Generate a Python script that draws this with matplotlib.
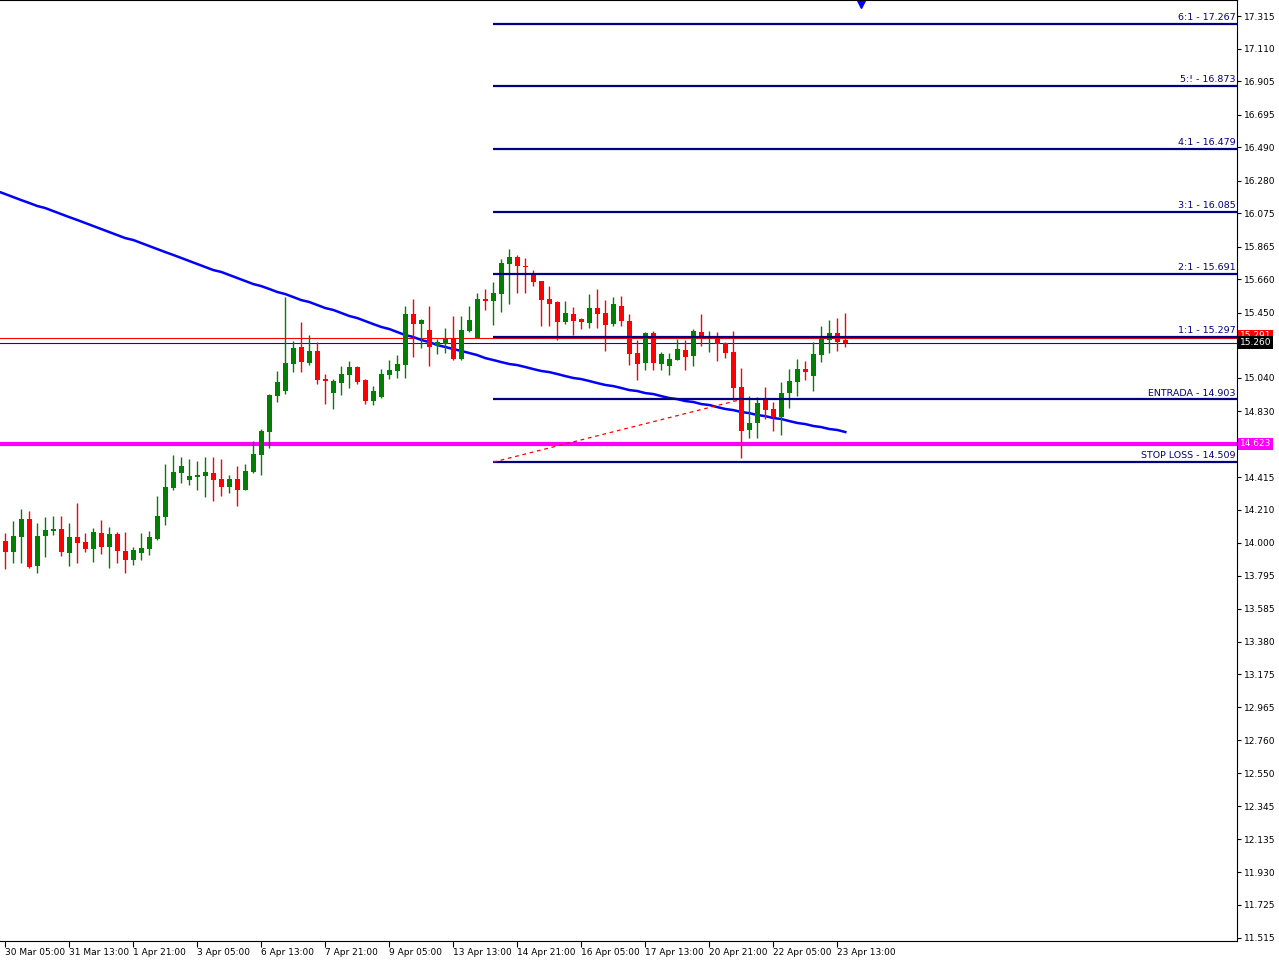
# 4H candlestick chart with MA and risk/reward levels (MT4 style)

import numpy as np
import matplotlib.pyplot as plt
import matplotlib.transforms as mtransforms

# candles (30 Mar 05:00 .. 23 Apr 13:00, 4H bars)
opens = [14.012, 13.943, 14.037, 14.150, 13.855, 14.043, 14.075, 14.087, 13.937, 14.037,
         14.006, 13.962, 14.062, 13.974, 14.056, 13.949, 13.893, 13.937, 13.962, 14.025,
         14.163, 14.346, 14.440, 14.396, 14.415, 14.421, 14.440, 14.402, 14.352, 14.402,
         14.333, 14.446, 14.553, 14.698, 14.924, 14.956, 15.126, 15.233, 15.132, 15.207,
         15.031, 14.943, 15.006, 15.056, 15.107, 15.025, 14.893, 14.918, 15.056, 15.082,
         15.119, 15.440, 15.377, 15.340, 15.239, 15.252, 15.283, 15.157, 15.334, 15.289,
         15.535, 15.522, 15.566, 15.755, 15.799, 15.742, 15.698, 15.648, 15.535, 15.516,
         15.390, 15.440, 15.409, 15.384, 15.478, 15.447, 15.377, 15.491, 15.396, 15.195,
         15.132, 15.321, 15.126, 15.113, 15.151, 15.214, 15.176, 15.327, 15.289, 15.289,
         15.258, 15.201, 14.981, 14.711, 14.755, 14.905, 14.843, 14.792, 14.943, 15.012,
         15.094, 15.050, 15.182, 15.277, 15.321, 15.277]
highs = [14.064, 14.138, 14.213, 14.201, 14.125, 14.163, 14.169, 14.169, 14.125, 14.251,
         14.062, 14.094, 14.144, 14.100, 14.069, 14.069, 13.974, 14.062, 14.075, 14.295,
         14.497, 14.553, 14.541, 14.528, 14.516, 14.541, 14.541, 14.528, 14.428, 14.484,
         14.497, 14.641, 14.717, 14.937, 15.082, 15.547, 15.271, 15.390, 15.308, 15.264,
         15.063, 15.031, 15.113, 15.144, 15.113, 15.031, 14.987, 15.094, 15.151, 15.182,
         15.491, 15.535, 15.409, 15.491, 15.283, 15.352, 15.428, 15.428, 15.491, 15.572,
         15.598, 15.642, 15.786, 15.849, 15.811, 15.792, 15.717, 15.648, 15.616, 15.522,
         15.522, 15.484, 15.415, 15.566, 15.598, 15.528, 15.547, 15.554, 15.440, 15.277,
         15.327, 15.334, 15.201, 15.195, 15.283, 15.277, 15.346, 15.440, 15.334, 15.327,
         15.264, 15.334, 15.101, 14.924, 14.918, 14.981, 14.887, 15.012, 15.094, 15.157,
         15.145, 15.264, 15.365, 15.403, 15.415, 15.447]
lows = [13.836, 13.874, 13.874, 13.845, 13.811, 13.912, 14.050, 13.918, 13.855, 13.874,
        13.943, 13.880, 13.930, 13.843, 13.874, 13.811, 13.861, 13.893, 13.924, 14.018,
        14.113, 14.333, 14.377, 14.364, 14.333, 14.289, 14.264, 14.295, 14.314, 14.232,
        14.333, 14.440, 14.428, 14.597, 14.887, 14.937, 15.075, 15.075, 15.119, 15.000,
        14.874, 14.842, 14.931, 14.975, 15.000, 14.874, 14.868, 14.912, 15.031, 15.038,
        15.038, 15.170, 15.226, 15.113, 15.189, 15.195, 15.151, 15.151, 15.327, 15.289,
        15.466, 15.371, 15.453, 15.503, 15.572, 15.572, 15.616, 15.365, 15.365, 15.277,
        15.377, 15.308, 15.346, 15.352, 15.352, 15.207, 15.365, 15.365, 15.119, 15.025,
        15.088, 15.088, 15.088, 15.056, 15.151, 15.088, 15.113, 15.239, 15.201, 15.145,
        15.164, 14.899, 14.534, 14.660, 14.660, 14.780, 14.704, 14.679, 14.849, 14.924,
        15.025, 14.956, 15.138, 15.195, 15.207, 15.233]
closes = [13.943, 14.043, 14.150, 13.849, 14.043, 14.081, 14.087, 13.943, 14.037, 13.999,
          13.962, 14.069, 13.974, 14.056, 13.949, 13.893, 13.956, 13.968, 14.037, 14.169,
          14.352, 14.446, 14.484, 14.421, 14.428, 14.446, 14.396, 14.352, 14.402, 14.333,
          14.453, 14.560, 14.704, 14.931, 15.012, 15.132, 15.226, 15.138, 15.207, 15.025,
          15.019, 15.019, 15.063, 15.107, 15.012, 14.893, 14.956, 15.063, 15.088, 15.126,
          15.440, 15.377, 15.403, 15.233, 15.264, 15.283, 15.157, 15.340, 15.403, 15.535,
          15.522, 15.572, 15.761, 15.799, 15.742, 15.736, 15.642, 15.528, 15.503, 15.390,
          15.447, 15.396, 15.390, 15.478, 15.440, 15.371, 15.503, 15.396, 15.189, 15.126,
          15.321, 15.132, 15.189, 15.157, 15.220, 15.170, 15.334, 15.289, 15.302, 15.252,
          15.195, 14.975, 14.704, 14.755, 14.880, 14.836, 14.792, 14.943, 15.019, 15.094,
          15.075, 15.189, 15.283, 15.321, 15.264, 15.260]

# moving average, starting one bar before the first candle
ma_values = [16.214, 16.195, 16.176, 16.157, 16.139, 16.120, 16.107, 16.088, 16.069, 16.050,
             16.032, 16.013, 15.994, 15.975, 15.956, 15.937, 15.918, 15.906, 15.887, 15.868,
             15.849, 15.830, 15.812, 15.793, 15.774, 15.755, 15.736, 15.717, 15.705, 15.686,
             15.667, 15.648, 15.629, 15.616, 15.598, 15.579, 15.566, 15.547, 15.528, 15.516,
             15.497, 15.478, 15.466, 15.447, 15.428, 15.415, 15.396, 15.377, 15.359, 15.346,
             15.327, 15.308, 15.296, 15.277, 15.264, 15.245, 15.233, 15.220, 15.208, 15.195,
             15.182, 15.163, 15.151, 15.138, 15.126, 15.119, 15.107, 15.094, 15.082, 15.075,
             15.063, 15.050, 15.038, 15.031, 15.019, 15.006, 14.994, 14.987, 14.975, 14.962,
             14.956, 14.943, 14.937, 14.924, 14.912, 14.905, 14.893, 14.887, 14.874, 14.868,
             14.855, 14.843, 14.836, 14.824, 14.817, 14.805, 14.798, 14.786, 14.780, 14.767,
             14.755, 14.748, 14.736, 14.729, 14.717, 14.711, 14.698]

# risk / reward levels
level_names = ['6:1', '5:!', '4:1', '3:1', '2:1', '1:1', 'ENTRADA', 'STOP LOSS']
level_prices = [17.267, 16.873, 16.479, 16.085, 15.691, 15.297, 14.903, 14.509]
level_start = 61
trend_bars = [61, 92]
trend_prices = [14.509, 14.903]

stop_line = 14.623
ask_price = 15.291
bid_price = 15.260

x_labels = ['30 Mar 05:00', '31 Mar 13:00', '1 Apr 21:00', '3 Apr 05:00', '6 Apr 13:00',
            '7 Apr 21:00', '9 Apr 05:00', '13 Apr 13:00', '14 Apr 21:00', '16 Apr 05:00',
            '17 Apr 13:00', '20 Apr 21:00', '22 Apr 05:00', '23 Apr 13:00']
y_labels = ['17.315', '17.110', '16.905', '16.695', '16.490', '16.280', '16.075', '15.865',
            '15.660', '15.450', '15.040', '14.830', '14.415', '14.210', '14.000', '13.795',
            '13.585', '13.380', '13.175', '12.965', '12.760', '12.550', '12.345', '12.135',
            '11.930', '11.725', '11.515']

o = np.array(opens)
h = np.array(highs)
l = np.array(lows)
c = np.array(closes)
bars = np.arange(len(o))
up = c >= o

fig = plt.figure(figsize=(12.79, 9.61), dpi=100)
ax = fig.add_axes([0, 20 / 961, 1237 / 1279, 941 / 961])

# horizontal price lines (full width)
ax.axhline(ask_price, color='#ff0000', lw=0.8, zorder=1)
ax.axhline(bid_price, color='#0000ff', lw=0.8, zorder=1)
ax.axhline(stop_line, color='#ff00ff', lw=3, zorder=1)

# moving average
ax.plot(np.arange(-1, len(ma_values) - 1), ma_values, color='#0000ff', lw=1.8, zorder=2)

# candles
colors = np.where(up, '#008000', '#ff0000')
ax.vlines(bars, l, h, colors=colors, lw=1, zorder=3)
body_low = np.minimum(o, c)
body_h = np.maximum(np.abs(c - o), 0.008)
ax.bar(bars, body_h, bottom=body_low, width=0.62, color=colors, lw=0, zorder=4)

# fibo style levels
blend = mtransforms.blended_transform_factory(ax.transAxes, ax.transData)
for name, price in zip(level_names, level_prices):
    ax.hlines(price, level_start, 160, color='#000080', lw=1.6, zorder=5)
    ax.text(0.999, price + 0.012, f'{name} - {price:.3f}', transform=blend,
            ha='right', va='bottom', fontsize=6.8, color='#000080')
ax.plot(trend_bars, trend_prices, color='#ff0000', lw=0.9, ls=(0, (3, 3)), zorder=5)

# shift marker at the top
ax.plot([107], [0.996], marker='v', ms=6, color='#0000ff',
        transform=mtransforms.blended_transform_factory(ax.transData, ax.transAxes), clip_on=False)

ax.set_xlim(-0.66, 153.96)
ax.set_ylim(11.496, 17.416)

# axes
ax.set_xticks(bars[::8][:len(x_labels)])
ax.set_xticklabels(x_labels, fontsize=6.5, ha='left')
ax.set_yticks([float(v) for v in y_labels])
ax.set_yticklabels(y_labels, fontsize=6.5)
ax.yaxis.tick_right()
ax.tick_params(axis='y', length=3, pad=2, width=0.8)
ax.tick_params(axis='x', length=4, pad=1, width=0.8)
for s in ax.spines.values():
    s.set_color('black')
    s.set_linewidth(0.8)
ax.spines['left'].set_visible(False)

# price tags on the right axis (the ask tag sits mostly behind the bid tag)
ax.text(1.002, ask_price + 0.012, f'{ask_price:.3f}', transform=blend, ha='left', va='center', fontsize=6.5,
        color='white', bbox=dict(boxstyle='square,pad=0.2', fc='#ff0000', ec='none'), zorder=6)
ax.text(1.002, bid_price, f'{bid_price:.3f}', transform=blend, ha='left', va='center', fontsize=6.5,
        color='white', bbox=dict(boxstyle='square,pad=0.2', fc='black', ec='none'), zorder=7)
ax.text(1.002, stop_line, f'{stop_line:.3f}', transform=blend, ha='left', va='center', fontsize=6.5,
        color='white', bbox=dict(boxstyle='square,pad=0.2', fc='#ff00ff', ec='none'), zorder=7)

fig.savefig('out.png', dpi=100)
